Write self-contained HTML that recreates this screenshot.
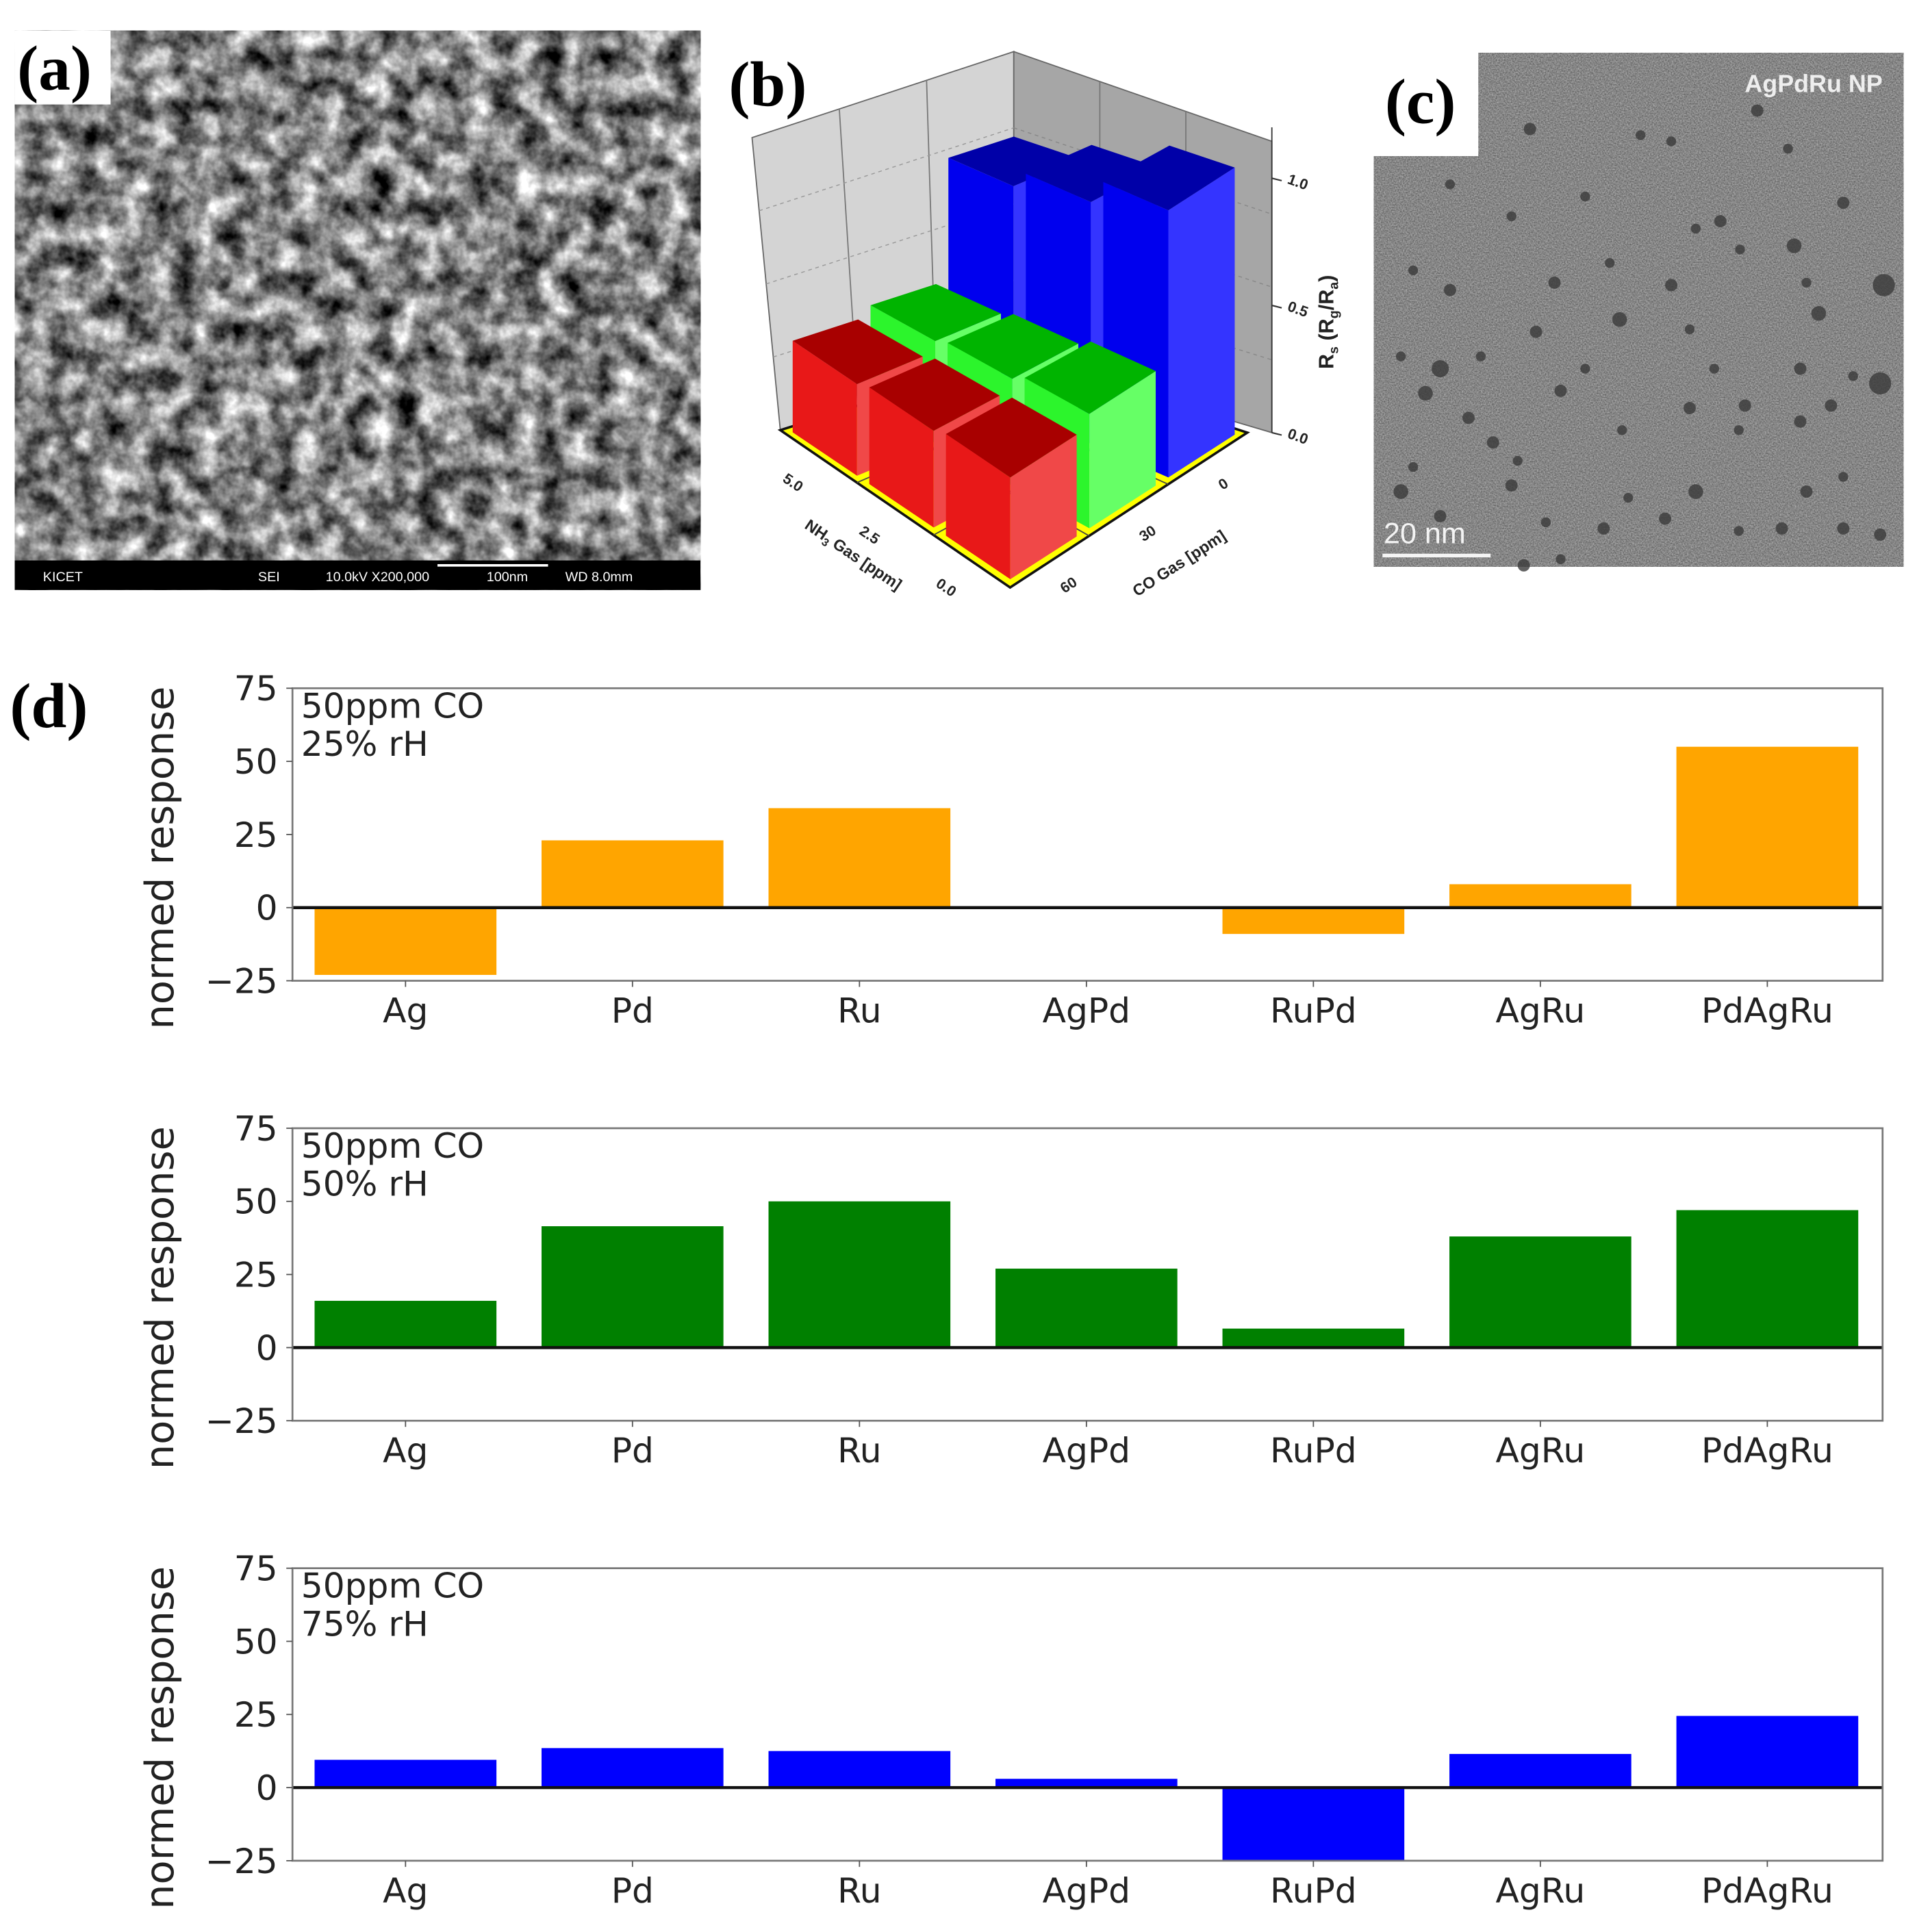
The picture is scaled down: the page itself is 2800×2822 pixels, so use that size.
<!DOCTYPE html>
<html><head><meta charset="utf-8">
<style>
html,body{margin:0;padding:0;background:#fff;}
svg{display:block;}
.lbl{font-family:"Liberation Serif",serif;font-weight:bold;font-size:52px;fill:#000;}
.mpl{font-family:"DejaVu Sans","Liberation Sans",sans-serif;fill:#222;}
.b3{font-family:"Liberation Sans",sans-serif;font-weight:bold;fill:#222;}
</style></head>
<body>
<svg id="fig" width="2800" height="2822" viewBox="0 0 1560 1572" preserveAspectRatio="none" xmlns="http://www.w3.org/2000/svg">
<defs>
<filter id="sem" x="0" y="0" width="100%" height="100%" color-interpolation-filters="sRGB">
<feTurbulence type="fractalNoise" baseFrequency="0.05" numOctaves="4" seed="3"/>
<feColorMatrix type="matrix" values="1.5 0 0 0 -0.24  1.5 0 0 0 -0.24  1.5 0 0 0 -0.24  0 0 0 0 1"/>
</filter>
<filter id="tem" x="0" y="0" width="100%" height="100%" color-interpolation-filters="sRGB">
<feTurbulence type="fractalNoise" baseFrequency="0.9" numOctaves="2" seed="7"/>
<feColorMatrix type="matrix" values="0.45 0 0 0 0.30  0.45 0 0 0 0.30  0.45 0 0 0 0.30  0 0 0 0 1"/>
</filter>
</defs>

<!-- Panel a -->
<g>
<rect x="12" y="25" width="558" height="455" fill="#777"/>
<rect x="12" y="25" width="558" height="455" filter="url(#sem)"/>
<rect x="12" y="456" width="558" height="24" fill="#000"/>
<text x="35" y="473" font-family="Liberation Sans" font-size="11" fill="#fff">KICET</text>
<text x="210" y="473" font-family="Liberation Sans" font-size="11" fill="#fff">SEI</text>
<text x="265" y="473" font-family="Liberation Sans" font-size="11" fill="#fff">10.0kV  X200,000</text>
<text x="396" y="473" font-family="Liberation Sans" font-size="11" fill="#fff">100nm</text>
<line x1="356" y1="460" x2="446" y2="460" stroke="#fff" stroke-width="2"/>
<text x="460" y="473" font-family="Liberation Sans" font-size="11" fill="#fff">WD 8.0mm</text>
<rect x="12" y="25" width="78" height="60" fill="#fff"/>
<text class="lbl" x="14" y="73">(a)</text>
</g>

<!-- Panel b -->
<g id="p3d"></g>
<text class="lbl" x="593" y="86">(b)</text>

<!-- Panel c -->
<g id="temg">
<rect x="1118" y="43" width="431" height="418" fill="#888"/>
<rect x="1118" y="43" width="431" height="418" filter="url(#tem)"/>
</g>

<!-- Panel d -->
<text class="lbl" x="8" y="592">(d)</text>
<g id="pd"></g>
</svg>

<script>
const NS='http://www.w3.org/2000/svg';
// ---- Panel d data ----
const categories=['Ag','Pd','Ru','AgPd','RuPd','AgRu','PdAgRu'];
const values25=[-23,23,34,0,-9,8,55];
const values50=[16,41.5,50,27,6.5,38,47];
const values75=[9.5,13.5,12.5,3,-25,11.5,24.5];
const yTicks=[75,50,25,0,-25];
const yTickLabels=['75','50','25','0','\u221225'];
const humidityLabels=['25% rH','50% rH','75% rH'];
// ---- Panel b data ----
const nh3Ticks=['5.0','2.5','0.0'];
const coTicks=['60','30','0'];
const zTicks=[0,0.5,1.0];
const zTickLabels=['0.0','0.5','1.0'];
const heightsCO60=[0.36,0.38,0.40];
const heightsCO30=[0.40,0.42,0.45];
const heightsCO0=[0.88,0.95,1.05];

function el(tag,attrs,parent){const e=document.createElementNS(NS,tag);for(const k in attrs)e.setAttribute(k,attrs[k]);parent.appendChild(e);return e;}

// ---------- Panel d ----------
(function(){
const pd=document.getElementById('pd');
const tops=[560,918,1276];
const series=[values25,values50,values75];
const colors=['#ffa500','#008000','#0000ff'];
const X0=238,X1=1532,pxPerUnit=2.38,c0=330,step=184.7,bw=148;
series.forEach((vals,k)=>{
  const top=tops[k];
  const y=v=>top+(75-v)*pxPerUnit;
  const x=i=>c0+i*step;
  const g=el('g',{},pd);
  
  
  vals.forEach((v,i)=>{
    const r=el('rect',{x:x(i)-bw/2,y:Math.min(y(v),y(0)),width:bw,height:Math.abs(y(v)-y(0)),fill:colors[k]},g);
    
    
  });
  const zl=el('line',{x1:X0,x2:X1,y1:y(0),y2:y(0),stroke:'#111','stroke-width':2.5},g);
  
  
  const fr=el('rect',{x:X0,y:y(75),width:X1-X0,height:y(-25)-y(75),fill:'none',stroke:'#777','stroke-width':1.5},g);
  
  
  yTicks.forEach((t,j)=>{
    el('line',{x1:X0-5,x2:X0,y1:y(t),y2:y(t),stroke:'#555','stroke-width':1},g);
    const tx=el('text',{x:X0-12,y:y(t)+10,'text-anchor':'end','font-size':28,class:'mpl'},g);
    tx.textContent=yTickLabels[j];
    
    
  });
  categories.forEach((c,i)=>{
    el('line',{x1:x(i),x2:x(i),y1:y(-25),y2:y(-25)+5,stroke:'#555','stroke-width':1},g);
    const tx=el('text',{x:x(i),y:y(-25)+34,'text-anchor':'middle','font-size':28,class:'mpl'},g);
    tx.textContent=c;
    
    
  });
  const yl=el('text',{x:0,y:0,'text-anchor':'middle','font-size':32,class:'mpl',transform:`translate(141,${top+138}) rotate(-90)`},g);
  yl.textContent='normed response';
  
  
  const a1=el('text',{x:245,y:top+24,'font-size':28,class:'mpl'},g);
  a1.textContent='50ppm CO';
  
  
  const a2=el('text',{x:245,y:top+55,'font-size':28,class:'mpl'},g);
  a2.textContent=humidityLabels[k];
  
  
});
})();

// ---------- Panel b ----------
(function(){
const g=document.getElementById('p3d');
const L=[635,350],F=[822,478],R=[1015,352],B=[825,290];
const ZPX=207,ZWALL=1.2;
const P=(a,b,z)=>{
  const w0=(1-a)*(1-b),w1=a*(1-b),w2=a*b,w3=(1-a)*b;
  return [w0*L[0]+w1*F[0]+w2*R[0]+w3*B[0], w0*L[1]+w1*F[1]+w2*R[1]+w3*B[1]-z*ZPX];
};
const TL=[612,112],TB=[825,42],TR=[1035,115];
const pts=arr=>arr.map(p=>p.join(',')).join(' ');
const lw=el('polygon',{points:pts([P(0,0,0),P(0,1,0),TB,TL]),fill:'#d4d4d4',stroke:'#666','stroke-width':1},g);

const rw=el('polygon',{points:pts([P(0,1,0),[1035,352],TR,TB]),fill:'#a6a6a6',stroke:'#666','stroke-width':1},g);

const lerp=(p,q,t)=>[p[0]+(q[0]-p[0])*t,p[1]+(q[1]-p[1])*t];
[1/3,2/3].forEach(f=>{
  const a0=P(0,f,0),a1=lerp(TL,TB,f);
  el('line',{x1:a0[0],y1:a0[1],x2:a1[0],y2:a1[1],stroke:'#777','stroke-width':1},g);
  const b0=lerp(P(0,1,0),[1035,352],f),b1=lerp(TB,TR,f);
  el('line',{x1:b0[0],y1:b0[1],x2:b1[0],y2:b1[1],stroke:'#777','stroke-width':1},g);
});
[0.25,0.5,0.75].forEach(t=>{
  const p1=lerp(P(0,0,0),TL,t),p2=lerp(P(0,1,0),TB,t),p3=lerp([1035,352],TR,t);
  el('line',{x1:p1[0],y1:p1[1],x2:p2[0],y2:p2[1],stroke:'#999','stroke-width':0.8,'stroke-dasharray':'3,3'},g);
  el('line',{x1:p2[0],y1:p2[1],x2:p3[0],y2:p3[1],stroke:'#888','stroke-width':0.8,'stroke-dasharray':'3,3'},g);
});
const fl=el('polygon',{points:pts([P(0,0,0),P(1,0,0),P(1,1,0),P(0,1,0)]),fill:'#ffff00',stroke:'#111','stroke-width':2},g);

[1/3,2/3].forEach(f=>{
  el('line',{x1:P(f,0,0)[0],y1:P(f,0,0)[1],x2:P(f,1,0)[0],y2:P(f,1,0)[1],stroke:'#444','stroke-width':1},g);
  el('line',{x1:P(0,f,0)[0],y1:P(0,f,0)[1],x2:P(1,f,0)[0],y2:P(1,f,0)[1],stroke:'#444','stroke-width':1},g);
});
const rows=[heightsCO60,heightsCO30,heightsCO0];
const shades=[['#a80000','#e81818','#f04848'],['#00b400','#2cf52c','#66ff66'],['#0000a8','#0000ee','#3434ff']];
const rowNames=['co-60','co-30','co-0'];
const h=0.14;
for(let bi=2;bi>=0;bi--){
  for(let ai=0;ai<3;ai++){
    const a=(ai+0.5)/3,b=(bi+0.5)/3,z=rows[bi][ai];
    const sh=shades[bi];
    const bg=el('g',{},g);
    
    
    el('polygon',{points:pts([P(a-h,b-h,0),P(a+h,b-h,0),P(a+h,b-h,z),P(a-h,b-h,z)]),fill:sh[1]},bg);
    el('polygon',{points:pts([P(a+h,b-h,0),P(a+h,b+h,0),P(a+h,b+h,z),P(a+h,b-h,z)]),fill:sh[2]},bg);
    el('polygon',{points:pts([P(a-h,b-h,z),P(a+h,b-h,z),P(a+h,b+h,z),P(a-h,b+h,z)]),fill:sh[0]},bg);
  }
}
const z0=P(1,1,0);
el('line',{x1:z0[0]+20,y1:z0[1],x2:z0[0]+20,y2:P(1,1,ZWALL)[1],stroke:'#333','stroke-width':1},g);
zTicks.forEach((t,j)=>{
  const p=P(1,1,t);
  el('line',{x1:p[0]+20,y1:p[1],x2:p[0]+28,y2:p[1]+2,stroke:'#333','stroke-width':1.2},g);
  const tx=el('text',{x:0,y:0,'font-size':12,class:'b3',transform:`translate(${p[0]+32},${p[1]+4}) rotate(20)`},g);
  tx.textContent=zTickLabels[j];
  
  
});
const zt=el('text',{x:0,y:0,'font-size':17,class:'b3','text-anchor':'middle',transform:'translate(1085,262) rotate(-90)'},g);
zt.innerHTML='R<tspan font-size="11" dy="4">s</tspan><tspan dy="-4"> (R</tspan><tspan font-size="11" dy="4">g</tspan><tspan dy="-4">/R</tspan><tspan font-size="11" dy="4">a</tspan><tspan dy="-4">)</tspan>';


nh3Ticks.forEach((t,i)=>{
  const p=P((i+0.5)/3,0,0);
  const tx=el('text',{x:0,y:0,'font-size':12,class:'b3',transform:`translate(${p[0]-30},${p[1]+20}) rotate(34)`},g);
  tx.textContent=t;
  
  
});
const nt=el('text',{x:0,y:0,'font-size':13,class:'b3','text-anchor':'middle',transform:'translate(692,455) rotate(34)'},g);
nt.innerHTML='NH<tspan font-size="9" dy="3">3</tspan><tspan dy="-3"> Gas [ppm]</tspan>';


coTicks.forEach((t,i)=>{
  const p=P(1,(i+0.5)/3,0);
  const tx=el('text',{x:0,y:0,'font-size':12,class:'b3',transform:`translate(${p[0]+12},${p[1]+26}) rotate(-33)`},g);
  tx.textContent=t;
  
  
});
const ct=el('text',{x:0,y:0,'font-size':13,class:'b3','text-anchor':'middle',transform:'translate(962,462) rotate(-33)'},g);
ct.textContent='CO Gas [ppm]';


})();

// ---------- Panel c decorations ----------
(function(){
const g=document.getElementById('temg');
const dots=[[1245,105,5],[1290,160,4],[1360,115,4],[1400,180,5],[1500,165,5],[1460,200,6],[1533,232,9],[1530,312,9],[1465,300,5],[1375,268,4],[1360,232,5],[1318,260,6],[1290,300,4],[1250,270,5],[1205,290,4],[1172,300,7],[1160,320,6],[1195,340,5],[1215,360,5],[1230,395,5],[1172,420,5],[1140,400,6],[1235,375,4],[1258,425,4],[1305,430,5],[1355,422,5],[1380,400,6],[1415,432,4],[1450,430,5],[1470,400,5],[1500,388,4],[1530,435,5],[1270,318,5],[1320,350,4],[1375,332,5],[1420,330,5],[1465,343,5],[1490,330,5],[1508,306,4],[1416,203,4],[1455,121,4],[1230,176,4],[1150,220,4],[1180,236,5],[1265,230,5],[1310,214,4],[1380,186,4],[1415,350,4],[1150,380,4],[1180,150,4],[1240,460,5],[1270,455,4],[1335,110,4],[1430,90,5],[1480,255,6],[1325,405,4],[1140,290,4],[1470,230,4],[1395,300,4],[1500,430,5]];
dots.forEach(d=>{
  const c=el('circle',{cx:d[0],cy:d[1],r:d[2],fill:'#3a3a3a',opacity:0.8},g);
  
  
});
const t=el('text',{x:1532,y:75,'text-anchor':'end','font-size':20,'font-weight':'bold',fill:'#eee','font-family':'Liberation Sans, sans-serif'},g);
t.textContent='AgPdRu NP';


const s=el('text',{x:1126,y:442,'font-size':24,fill:'#f4f4f4','font-family':'Liberation Sans, sans-serif'},g);
s.textContent='20  nm';


el('line',{x1:1125,y1:452,x2:1213,y2:452,stroke:'#f4f4f4','stroke-width':3},g);
el('rect',{x:1115,y:42,width:88,height:85,fill:'#fff'},g);
const lb=el('text',{x:1127,y:100,class:'lbl'},g);
lb.textContent='(c)';


})();
</script>
</body></html>
